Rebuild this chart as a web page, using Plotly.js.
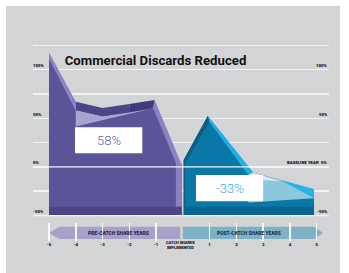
<!DOCTYPE html>
<html>
<head>
<meta charset="utf-8">
<script src="https://cdn.plot.ly/plotly-3.0.1.min.js"></script>
<style>
  html, body { margin: 0; padding: 0; background: #ffffff; }
  #chart { width: 349px; height: 273px; }
</style>
</head>
<body>
<div id="chart"></div>
<script>
// ---------- data ----------
const preYears      = [-5, -4, -3, -2, -1.05, -0.04];
const preDiscards   = [117.5, 67, 60.6, 64.7, 68.8, 2];
const postYears     = [0.03, 0.93, 2.62, 4.9];
const postDiscards  = [7, 52.4, -5.7, -23];
const tickYears     = [-5, -4, -3, -2, -1, 1, 2, 3, 4, 5];
const tickLabels    = ['-5', '-4', '-3', '-2', '-1', '1', '2', '3', '4', '5'];
const yTickVals     = [100, 50, 0, -50];
const yMinorVals    = [125, 75, 25, -25];
const yLeftLabels   = ['100%', '50%', '0%', '-50%'];
const yRightLabels  = ['100%', '50%', 'BASELINE YEAR\u00a0\u00a00%', '-50%'];
const changeLabels  = ['58%', '-33%'];
const periodLabels  = ['PRE-CATCH SHARE YEARS', 'POST-CATCH SHARE YEARS'];
const eventLabel    = 'CATCH SHARES<br>IMPLEMENTED';
const floorValue    = -50;

// ---------- style constants ----------
const FONT = 'Roboto, "Liberation Sans", sans-serif';
const D = 8.5;          // depth of the top surface band
const BASE = 9;         // height of the dark base band
const C = {
  bg: '#d3d4d6', grid: '#f3f3f4',
  pFace: '#5a5499', pTop1: '#4b4486', pTop2: '#413a7a', pLav: '#a9a3cf', pSide: '#8a82c4', pBase: '#4b4586',
  bFace: '#0a77a7', bDark: '#0b5d84', bCyan: '#1cb1e7', bTail: '#8cc7de', bWhite: '#e2e7ea', bTri: '#27b3e4', bBase: '#08658f',
  arrowL: '#a6a1c9', arrowR: '#7eb1c6', textL: '#24224f', textR: '#17324a'
};

function interp(xs, ys, x) {
  for (let i = 0; i < xs.length - 1; i++) {
    if (x >= xs[i] && x <= xs[i + 1]) {
      return ys[i] + (ys[i + 1] - ys[i]) * (x - xs[i]) / (xs[i + 1] - xs[i]);
    }
  }
  return ys[ys.length - 1];
}
function poly(x, y, color) {
  return { type: 'scatter', mode: 'none', fill: 'toself', fillcolor: color,
           x: x, y: y, hoverinfo: 'skip', showlegend: false };
}

const px = preYears, py = preDiscards;
const qx = postYears, qy = postDiscards;
const baseTop = floorValue + BASE;

// ---- purple (pre-catch share) ----
const rightSlope = (py[5] - py[4]) / (px[5] - px[4]);
const innerX0 = px[4] - 0.06, innerY0 = py[4] - D;
const innerX1 = px[5] - 0.22, innerY1 = innerY0 + rightSlope * (innerX1 - innerX0);
const traces = [
  poly([px[0], px[0], px[1], px[4], px[5], px[5]],
       [floorValue, py[0] - 5.5, py[1] - D, py[4] - D, py[5], floorValue], C.pFace),
  poly([px[1], px[2], px[3], innerX0, px[1]],
       [py[1] - D, py[2] - D, py[3] - D, innerY0, py[1] - 3 * D], C.pLav),
  poly([px[1], px[2], px[3], px[3], px[2], px[1]],
       [py[1], py[2], py[3], py[3] - D, py[2] - D, py[1] - D], C.pTop1),
  poly([px[3], px[4], innerX0, px[3]],
       [py[3], py[4], innerY0, py[3] - D], C.pTop2),
  poly([px[0], px[1], px[1], px[0]],
       [py[0], py[1], py[1] - D, py[0] - 5.5], C.pSide),
  poly([px[4], px[5], px[5], innerX1, innerX1, innerX0],
       [py[4], py[5], baseTop, baseTop, innerY1, innerY0], C.pSide),
  poly([px[0], px[5], px[5], px[0]], [baseTop, baseTop, floorValue, floorValue], C.pBase)
];

// ---- blue (post-catch share) ----
const tipX = 3.65, tipY = interp(qx, qy, tipX);
traces.push(
  poly([qx[0], qx[0], qx[1], qx[2], qx[3], qx[3]],
       [floorValue, qy[0], qy[1], qy[2], qy[3], floorValue], C.bFace),
  poly([qx[0], qx[1], qx[1] + 0.06, qx[0] + 0.06, qx[0] + 0.06, qx[0]],
       [qy[0], qy[1], qy[1] - 6, qy[0] - 3, baseTop, baseTop], C.bDark),
  poly([qx[1], qx[2], qx[2] - 0.17, qx[1] + 0.06],
       [qy[1], qy[2], qy[2] - 2.6, qy[1] - 6], C.bCyan),
  poly([qx[2] - 0.17, qx[2], qx[3], qx[3], qx[2] - 0.17],
       [qy[2] - 2.6, qy[2], qy[3], qy[3] - 9.3, qy[2] - 30.8], C.bTail),
  poly([qx[2] - 0.17, qx[2], tipX, 2.97],
       [qy[2] - 2.6, qy[2], tipY - 1.2, tipY], C.bWhite),
  poly([tipX, qx[3], qx[3]], [tipY, qy[3], qy[3] - 9.3], C.bTri),
  poly([qx[0], qx[3], qx[3], qx[0]], [baseTop, baseTop, floorValue, floorValue], C.bBase)
);

// ---- period arrows ----
const arTop = -61.5, arBot = -74.2, arMid = (arTop + arBot) / 2;
traces.push(
  poly([px[5] - 0.06, px[0] + 0.38, px[0], px[0] + 0.38, px[5] - 0.06],
       [arTop, arTop, arMid, arBot, arBot], C.arrowL),
  poly([qx[0] - 0.03, qx[3], qx[3] + 0.34, qx[3], qx[0] - 0.03],
       [arTop, arTop, arMid, arBot, arBot], C.arrowR)
);

// ---------- layout ----------
const L = 33, R = 20, T = 44, B = 32, W = 349, H = 273;
const pw = W - L - R, ph = H - T - B;
const paperX = p => (p - L) / pw;
const paperY = p => (H - B - p) / ph;

const smallFont = { family: FONT, size: 4.3, color: '#111111', weight: 900 };

const annotations = [];
yTickVals.forEach((v, i) => {
  annotations.push({ xref: 'paper', x: paperX(329), xanchor: 'right', yref: 'y', y: v, yanchor: 'middle',
                     yshift: 4, text: yRightLabels[i], showarrow: false, font: smallFont });
});
const boxes = [
  { x0: -4.03, x1: -1.515, y0: 14, y1: 40.7, color: '#6b63aa' },
  { x0: 0.49, x1: 3.0, y0: -35.4, y1: -8.3, color: '#3ba6da' }
];
boxes.forEach((b, i) => {
  annotations.push({ xref: 'x', yref: 'y', x: (b.x0 + b.x1) / 2, y: (b.y0 + b.y1) / 2,
                     text: changeLabels[i], showarrow: false,
                     font: { family: FONT, size: 13, color: b.color, weight: 300 } });
});
annotations.push(
  { xref: 'x', yref: 'y', x: -2.415, y: arMid, text: periodLabels[0], showarrow: false,
    font: { family: FONT, size: 4.9, color: C.textL, weight: 900 } },
  { xref: 'x', yref: 'y', x: 2.464, y: arMid, text: periodLabels[1], showarrow: false,
    font: { family: FONT, size: 4.9, color: C.textR, weight: 900 } },
  { xref: 'x', x: -0.07, yref: 'paper', y: paperY(245.5), yanchor: 'middle', text: eventLabel,
    showarrow: false, font: { family: FONT, size: 3.9, color: '#111', weight: 900 } }
);

const shapes = [
  { type: 'rect', xref: 'paper', yref: 'paper', x0: paperX(6), x1: paperX(340), y0: paperY(280), y1: paperY(6),
    fillcolor: C.bg, line: { width: 0 }, layer: 'below' },
  { type: 'line', xref: 'x domain', x0: 0, x1: 1, yref: 'y', y0: 0, y1: 0,
    line: { color: C.grid, width: 1.2 }, layer: 'above' },
  { type: 'line', xref: 'x domain', x0: 0, x1: 1, yref: 'y', y0: floorValue, y1: floorValue,
    line: { color: C.grid, width: 1.2 }, layer: 'above' }
];
boxes.forEach(b => shapes.push({ type: 'rect', xref: 'x', yref: 'y', x0: b.x0, x1: b.x1, y0: b.y0, y1: b.y1,
  fillcolor: '#ffffff', line: { width: 0 }, layer: 'above' }));

const layout = {
  width: W, height: H,
  margin: { l: L, r: R, t: T, b: B, pad: 0 },
  paper_bgcolor: '#ffffff', plot_bgcolor: 'rgba(0,0,0,0)',
  showlegend: false,
  title: { text: 'Commercial Discards Reduced',
           font: { family: FONT, size: 13.2, color: '#111111', weight: 700 },
           xref: 'paper', x: paperX(155.5), xanchor: 'center',
           yref: 'container', y: 1 - 60.5 / H, yanchor: 'middle' },
  xaxis: { range: [-5.598, 5.46], tickmode: 'array', tickvals: tickYears, ticktext: tickLabels,
           ticks: 'inside', ticklen: 18, tickwidth: 1.5, tickcolor: 'rgba(255,255,255,0.9)',
           showgrid: false, zeroline: false, showline: false, tickfont: smallFont, fixedrange: true },
  yaxis: { range: [-76.18, 126.35], tickmode: 'array', tickvals: yTickVals, ticktext: yLeftLabels,
           showgrid: true, gridcolor: C.grid, gridwidth: 1.5,
           minor: { tickmode: 'array', tickvals: yMinorVals, showgrid: true, gridcolor: C.grid, gridwidth: 1.5, ticks: '' },
           zeroline: false, showline: false, ticks: '', ticklabelposition: 'inside', ticklabelshift: -4,
           ticklabelstandoff: -3, tickfont: smallFont, fixedrange: true },
  shapes: shapes,
  annotations: annotations
};

Plotly.newPlot('chart', traces, layout, { staticPlot: true, displayModeBar: false });
</script>
</body>
</html>
